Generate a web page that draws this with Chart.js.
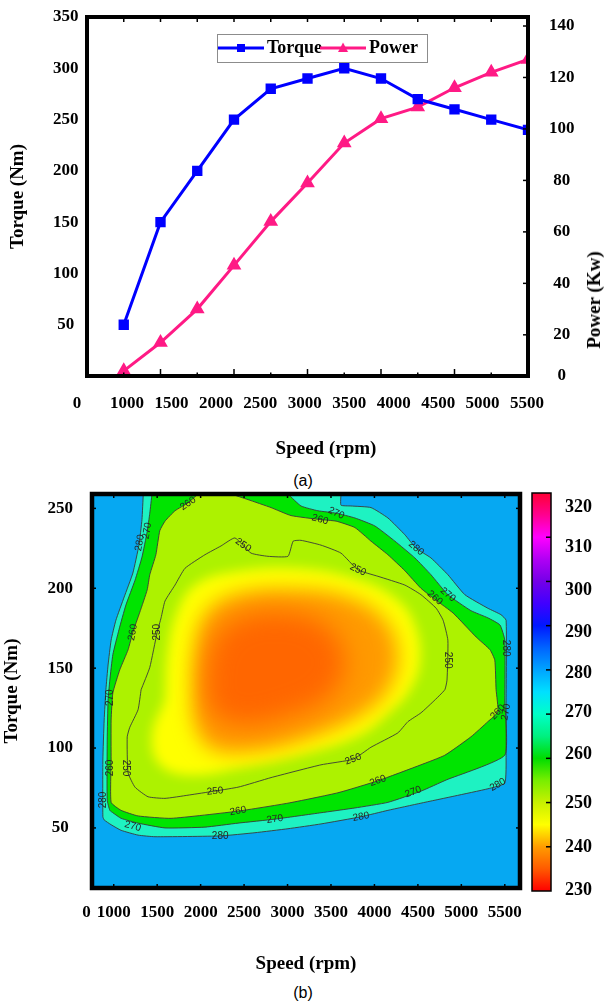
<!DOCTYPE html>
<html>
<head>
    <title>Torque, power and BSFC map</title>
    <style>
        body{ margin:0; background:#fff; }
        #page{ position:relative; width:606px; height:1004px; overflow:hidden; }
        #page canvas{ position:absolute; }
        .cap{ position:absolute; left:0; width:606px; text-align:center; font-family:"Liberation Sans", Arial, sans-serif; font-size:16px; line-height:22px; color:#000; }
        .atitle{ position:absolute; font-family:"Liberation Serif", "Times New Roman", serif; font-weight:bold; font-size:19px; color:#000; white-space:nowrap; transform:translate(-50%,-50%); }
    </style>
</head>
<body>
<div id="page">
    <canvas id="curves" width="606" height="470" style="left:0;top:0"></canvas>
    <div class="atitle" style="left:594px;top:300px;transform:translate(-50%,-50%) rotate(-90deg)">Power (Kw)</div>
    <div class="atitle" style="left:326px;top:448px">Speed (rpm)</div>
    <div class="cap" style="top:470px">(a)</div>
    <canvas id="bsfc" width="525" height="496" style="left:0;top:484px"></canvas>
    <canvas id="bar" width="86" height="420" style="left:520px;top:484px"></canvas>
    <div class="cap" style="top:982px">(b)</div>
</div>

<script src="https://cdn.jsdelivr.net/npm/chart.js@4.4.1/dist/chart.umd.min.js"></script>
<script>
    // ---- (a) torque / power curves ----
    const speedRpm = [1000, 1400, 1800, 2200, 2600, 3000, 3400, 3800, 4200, 4600, 5000, 5400];
    const torqueNm = [50, 150, 200, 250, 280, 290, 300, 290, 270, 260, 250, 240];
    const powerKw = [6, 17, 30, 47, 64, 79, 94.5, 104, 108.5, 116, 122, 127];

    // printed labels and where they sit
    const speedLabelText = ['0', '1000', '1500', '2000', '2500', '3000', '3500', '4000', '4500', '5000', '5500'];
    const speedLabelAt = [437, 1000, 1500, 2000, 2500, 3000, 3500, 4000, 4500, 5000, 5500];
    const powerLabelText = ['0', '20', '40', '60', '80', '100', '120', '140'];
    const powerLabelAt = [4, 20, 40, 60, 80, 100, 120, 140];

    // ---- (b) BSFC map (g/kWh), contour lines ----
    const c280Rpm = [1340, 1325, 1290, 1220, 1120, 1025, 970, 935, 910, 890, 875, 875, 890, 970, 1085, 1280, 1475, 2225, 2625, 3005, 3385, 3845, 4155, 4535, 4925, 5305, 5500, 5515, 5515, 5515, 5455, 5305, 5040, 4845, 4650, 4480, 4350, 4155, 3960, 3730, 3615, 3615];
    const c280Nm = [259, 243, 227, 209.5, 194.5, 180, 167.5, 152, 136.5, 117.5, 92.5, 57, 55, 52, 48.5, 45.5, 44.5, 45, 47, 49.5, 52.5, 57, 61, 65.5, 70, 74.5, 78, 95.5, 130, 180, 183.5, 187.5, 196, 208.5, 219, 225, 233.5, 244, 250.5, 251.5, 252, 259];

    const c270Rpm = [1440, 1415, 1385, 1325, 1245, 1140, 1060, 990, 955, 935, 925, 925, 955, 990, 1085, 1280, 1590, 2050, 2430, 2855, 3385, 3775, 4155, 4535, 4825, 5500, 5500, 5500, 5445, 5305, 5110, 4845, 4650, 4465, 4235, 4005, 3775, 3560, 3350, 3155, 3005];
    const c270Nm = [259, 247, 235.5, 219.5, 205, 189.5, 174, 158.5, 142.5, 130, 105, 67.5, 61, 59.5, 56, 53, 50, 50.5, 53, 55.5, 59.5, 62.5, 66, 73, 80, 95.5, 130, 167.5, 177, 181.5, 186, 196, 208.5, 219, 229.5, 239, 244, 247, 248.5, 251.5, 259];

    const c260Rpm = [1970, 1855, 1705, 1590, 1530, 1485, 1415, 1385, 1300, 1220, 1165, 1070, 990, 970, 970, 970, 1085, 1280, 1660, 2430, 3005, 3580, 4040, 4535, 4810, 5110, 5305, 5420, 5400, 5385, 5330, 5170, 4905, 4710, 4535, 4350, 4155, 3960, 3775, 3560, 3375, 3040, 2810, 2545, 2350];
    const c260Nm = [259, 253.5, 248.5, 242, 236, 221, 208.5, 199, 185, 172.5, 161.5, 149, 134.5, 117.5, 92.5, 66, 61, 57.5, 56, 60.5, 65.5, 72, 79.5, 89.5, 95.5, 107, 116.5, 122.5, 136.5, 155, 161.5, 169.5, 184.5, 192.5, 200, 211, 221, 229.5, 238, 242, 243, 245.5, 250.5, 255.5, 259];

    const c250Rpm = [1315, 1415, 1500, 1545, 1590, 1705, 1820, 2050, 2235, 2395, 2580, 2775, 3005, 3065, 3155, 3385, 3615, 3810, 4040, 4350, 4535, 4710, 4790, 4845, 4835, 4810, 4675, 4535, 4385, 4270, 3960, 3755, 3385, 2810, 2430, 1855, 1590, 1395, 1245, 1165, 1155, 1185, 1280, 1315];
    const c250Nm = [136.5, 150.5, 172.5, 181.5, 192, 202, 212.5, 221, 226.5, 231.5, 222, 220, 220, 229.5, 230, 227, 222, 211.5, 207.5, 202, 196, 187.5, 180, 167.5, 142.5, 136.5, 129, 122, 116.5, 109.5, 100.5, 93, 89.5, 81.5, 75.5, 70.5, 68.5, 69.5, 75.5, 84.5, 107, 113, 124, 136.5];

    // inner (unlabelled) levels estimated from the shading
    const c245Rpm = [1590, 1625, 1740, 1935, 2340, 3145, 3835, 4270, 4465, 4525, 4410, 4180, 3835, 3145, 2455, 1880, 1530, 1440, 1590];
    const c245Nm = [130, 161.5, 186.5, 202, 210, 212.5, 205, 192.5, 177, 155, 136.5, 122.5, 108, 95.5, 87.5, 83, 89.5, 108, 130];
    const c240Rpm = [1910, 1935, 2050, 2395, 3145, 3720, 4120, 4270, 4155, 3835, 3260, 2570, 2110, 1935, 1910];
    const c240Nm = [130, 161.5, 183.5, 196, 199, 194, 180, 158.5, 136.5, 120.5, 106.5, 97.5, 100, 114.5, 130];
    const c236Rpm = [2050, 2130, 2395, 2915, 3430, 3660, 3490, 3030, 2455, 2130, 2050];
    const c236Nm = [136.5, 164.5, 180, 185, 177, 155, 133, 120.5, 114.5, 122.5, 136.5];

    const labelText = ['280', '270', '260', '270', '260', '250', '250', '280', '270', '260', '250', '280', '250', '260', '270', '260', '280', '250', '270', '280', '250', '260', '270', '250', '260', '280', '270', '280', '260', '270'];
    const labelRpm = [1300, 1385, 1855, 3560, 3375, 2490, 3810, 4480, 4845, 4695, 4845, 5515, 1500, 1220, 955, 955, 875, 1140, 1220, 2225, 2165, 2430, 2855, 3755, 4040, 3845, 4445, 5420, 5420, 5515];
    const labelNm = [228.5, 236, 253, 247, 243, 227, 211.5, 225, 196, 194, 155, 162.5, 172.5, 172.5, 131.5, 87.5, 67.5, 87.5, 51, 45, 73, 60.5, 55.5, 93, 79.5, 57, 72.5, 77, 122.5, 122.5];
    const labelAngle = [-80, -80, -35, 25, 15, 35, 25, 40, 40, 40, 90, 90, -90, -80, -90, -90, -90, 90, 15, 0, -5, -10, -8, -20, -20, -10, -20, -30, -45, -80];

    const mapSpeedLabelText = ['0', '1000', '1500', '2000', '2500', '3000', '3500', '4000', '4500', '5000', '5500'];
    const mapSpeedLabelAt = [687, 1000, 1500, 2000, 2500, 3000, 3500, 4000, 4500, 5000, 5500];
    const mapTorqueTicks = [50, 100, 150, 200, 250];

    // colour bar
    const bsfcTicks = [230, 240, 250, 260, 270, 280, 290, 300, 310, 320];
    const bsfcLabelAt = [230.2, 239.8, 249.9, 260.8, 270.3, 279.3, 288.6, 298.1, 307.6, 316.8];
    const bsfcStops = [230, 235, 240, 245, 250, 255, 260, 265, 270, 275, 280, 285, 290, 295, 300, 305, 310, 315, 320];
    const bsfcColors = ['#ff0000', '#ff5a00', '#ff9c00', '#ffff00', '#c8f000', '#78ee00', '#00dc00', '#00f080', '#00ffc8', '#00e0ff', '#00a4ff', '#0064ff', '#0018ff', '#4000ff', '#7400e8', '#b000f4', '#ff00ff', '#ff0090', '#ff0034'];

    const serif = '"Liberation Serif", "Times New Roman", serif';
    const tickFont = {family: serif, size: 17, weight: 'bold'};
    const titleFont = {family: serif, size: 19, weight: 'bold'};
    Chart.defaults.color = '#000';

    // frame round the plot area with inward tick marks
    function makeFrame(width, marks) {
        return {
            id: 'frame',
            afterDatasetsDraw(chart) {
                const {ctx, chartArea: a} = chart;
                ctx.save();
                ctx.strokeStyle = '#000';
                ctx.lineWidth = 1.5;
                marks.forEach(m => {
                    const s = chart.scales[m.scale];
                    m.values.forEach((v, i) => {
                        const p = s.getPixelForValue(v);
                        const len = typeof m.len === 'function' ? m.len(i) : m.len;
                        ctx.beginPath();
                        if (m.side === 'bottom') { ctx.moveTo(p, a.bottom); ctx.lineTo(p, a.bottom - len); }
                        else if (m.side === 'top') { ctx.moveTo(p, a.top); ctx.lineTo(p, a.top + len); }
                        else if (m.side === 'left') { ctx.moveTo(a.left, p); ctx.lineTo(a.left + len, p); }
                        else { ctx.moveTo(a.right, p); ctx.lineTo(a.right - len, p); }
                        ctx.stroke();
                    });
                });
                ctx.lineWidth = width;
                ctx.strokeRect(a.left, a.top, a.width, a.height);
                ctx.restore();
            }
        };
    }

    // legend sample: line with marker
    function legendSymbol(color, shape) {
        const c = document.createElement('canvas');
        c.width = 46; c.height = 14;
        const g = c.getContext('2d');
        g.strokeStyle = color; g.fillStyle = color; g.lineWidth = 3;
        g.beginPath(); g.moveTo(0, 7); g.lineTo(46, 7); g.stroke();
        g.beginPath();
        if (shape === 'rect') g.rect(19, 3, 8, 8);
        else { g.moveTo(23, 1.5); g.lineTo(28, 11); g.lineTo(18, 11); g.closePath(); }
        g.fill();
        return c;
    }

    // put the legend inside the plot, boxed
    function placeLegend(x0, top) {
        return {
            id: 'placeLegend',
            afterLayout(chart) {
                const lg = chart.legend;
                const pad = lg.options.labels.padding;
                const w = lg.right - lg.left;
                lg.left = x0 - (pad + w - lg.lineWidths[0]) / 2;
                lg.right = lg.left + w;
                lg.top = top;
                lg.bottom = top + 30;
            },
            beforeDraw(chart) {
                const lg = chart.legend;
                const pad = lg.options.labels.padding;
                const ctx = chart.ctx;
                ctx.save();
                ctx.fillStyle = '#fff';
                ctx.strokeStyle = '#8c8c8c';
                ctx.lineWidth = 1;
                const bx = x0 - 7, by = top - 1, bw = lg.lineWidths[0] - pad + 16, bh = 28;
                ctx.fillRect(bx, by, bw, bh);
                ctx.strokeRect(bx + 0.5, by + 0.5, bw, bh);
                ctx.restore();
            }
        };
    }

    new Chart('curves', {
        type: 'line',
        data: {
            datasets: [{
                label: 'Torque',
                data: speedRpm.map((s, i) => ({x: s, y: torqueNm[i]})),
                yAxisID: 'y',
                borderColor: '#0000ff',
                backgroundColor: '#0000ff',
                borderWidth: 3,
                pointStyle: 'rect',
                pointRadius: 5.2,
                symbol: legendSymbol('#0000ff', 'rect')
            }, {
                label: 'Power',
                data: speedRpm.map((s, i) => ({x: s, y: powerKw[i]})),
                yAxisID: 'y1',
                borderColor: '#ff1a85',
                backgroundColor: '#ff1a85',
                borderWidth: 3,
                pointStyle: 'triangle',
                pointRadius: 5.5,
                symbol: legendSymbol('#ff1a85', 'triangle')
            }]
        },
        options: {
            responsive: false,
            animation: false,
            devicePixelRatio: 1,
            layout: {padding: 0},
            scales: {
                x: {type: 'linear', display: false, min: 600, max: 5400},
                xLab: {
                    type: 'linear', position: 'bottom', min: 550, max: 5511,
                    grid: {display: false, drawTicks: false}, border: {display: false},
                    afterBuildTicks: ax => { ax.ticks = speedLabelAt.map(v => ({value: v})); },
                    afterFit: ax => { ax.height = 94; ax.paddingLeft = 0; ax.paddingRight = 0; },
                    ticks: {autoSkip: false, maxRotation: 0, padding: 17, font: tickFont, color: '#000',
                        callback: (v, i) => speedLabelText[i]}
                },
                y: {
                    position: 'left', min: 0, max: 350,
                    grid: {display: false, drawTicks: false}, border: {display: false},
                    afterFit: ax => { ax.width = 87; ax.paddingTop = 0; ax.paddingBottom = 0; },
                    ticks: {stepSize: 50, crossAlign: 'center', padding: 8.5, font: tickFont, color: '#000',
                        callback: v => v === 0 ? '' : v},
                    title: {display: true, text: 'Torque (Nm)', font: titleFont, color: '#000', padding: {top: 7, bottom: 0}}
                },
                y1: {
                    position: 'right', min: 4, max: 143.5,
                    grid: {display: false, drawTicks: false}, border: {display: false},
                    afterBuildTicks: ax => { ax.ticks = powerLabelAt.map(v => ({value: v})); },
                    afterFit: ax => { ax.width = 78; ax.paddingTop = 0; ax.paddingBottom = 0; },
                    ticks: {autoSkip: false, crossAlign: 'center', padding: 21, font: tickFont, color: '#000',
                        callback: (v, i) => powerLabelText[i]}
                }
            },
            plugins: {
                tooltip: {enabled: false},
                legend: {
                    position: 'top',
                    maxHeight: 17,
                    labels: {
                        usePointStyle: true,
                        pointStyleWidth: 34,
                        padding: 4,
                        color: '#000',
                        font: {family: serif, size: 18, weight: 'bold'},
                        generateLabels: chart => chart.data.datasets.map((ds, i) => ({
                            text: ds.label, datasetIndex: i, pointStyle: ds.symbol,
                            fillStyle: ds.borderColor, strokeStyle: ds.borderColor, lineWidth: 0,
                            hidden: false, fontColor: '#000'
                        }))
                    }
                }
            }
        },
        plugins: [
            placeLegend(224, 35),
            makeFrame(4, [
                {scale: 'x', side: 'bottom', values: speedRpm, len: i => i % 2 ? 7 : 3.5},
                {scale: 'x', side: 'top', values: speedRpm, len: 5},
                {scale: 'y1', side: 'right', values: powerLabelAt.slice(1), len: 5}
            ])
        ]
    });

    // ---- (b) BSFC map ----
    function contour(rpm, nm, extra) {
        return Object.assign({
            data: rpm.map((s, i) => ({x: s, y: nm[i]})),
            showLine: true,
            pointRadius: 0,
            borderWidth: 0.9,
            borderColor: '#3a3a3a',
            tension: 0.15
        }, extra);
    }

    // filled bands drawn from the contour lines, under the lines themselves
    function shadeMap(background) {
        return {
            id: 'shadeMap',
            beforeDatasetsDraw(chart) {
                const {ctx, chartArea: a} = chart;
                ctx.save();
                ctx.beginPath();
                ctx.rect(a.left, a.top, a.width, a.height);
                ctx.clip();
                ctx.fillStyle = background;
                ctx.fillRect(a.left, a.top, a.width, a.height);
                chart.data.datasets.forEach((ds, i) => {
                    const line = chart.getDatasetMeta(i).dataset;
                    if (!ds.shade || !line) return;
                    if (line.updateControlPoints) line.updateControlPoints(a, 'x');
                    ctx.save();
                    ctx.filter = ds.blur ? 'blur(' + ds.blur + 'px)' : 'none';
                    ctx.fillStyle = ds.shade;
                    ctx.beginPath();
                    line.path(ctx);
                    ctx.closePath();
                    ctx.fill();
                    ctx.restore();
                });
                ctx.restore();
            }
        };
    }

    const contourText = {
        id: 'contourText',
        afterDatasetsDraw(chart) {
            const {ctx} = chart;
            const sx = chart.scales.x, sy = chart.scales.y;
            ctx.save();
            ctx.font = '10px "Liberation Sans", Arial, sans-serif';
            ctx.fillStyle = '#262626';
            ctx.textAlign = 'center';
            ctx.textBaseline = 'middle';
            labelText.forEach((t, i) => {
                ctx.save();
                ctx.translate(sx.getPixelForValue(labelRpm[i]), sy.getPixelForValue(labelNm[i]));
                ctx.rotate(labelAngle[i] * Math.PI / 180);
                ctx.fillText(t, 0, 0);
                ctx.restore();
            });
            ctx.restore();
        }
    };

    const noLine = 'rgba(0,0,0,0)';
    new Chart('bsfc', {
        type: 'scatter',
        data: {
            datasets: [
                contour(c280Rpm, c280Nm, {shade: '#1ef2c2'}),
                contour(c270Rpm, c270Nm, {shade: '#00e400'}),
                contour(c260Rpm, c260Nm, {shade: '#adf200'}),
                contour(c250Rpm, c250Nm, {shade: '#adf200'}),
                contour(c245Rpm, c245Nm, {shade: '#ffff00', blur: 6, borderColor: noLine, tension: 0.4}),
                contour(c240Rpm, c240Nm, {shade: '#ff9a00', blur: 10, borderColor: noLine, tension: 0.4}),
                contour(c236Rpm, c236Nm, {shade: '#ff6600', blur: 13, borderColor: noLine, tension: 0.4})
            ]
        },
        options: {
            responsive: false,
            animation: false,
            devicePixelRatio: 1,
            layout: {padding: {top: 10, right: 5, left: 0, bottom: 0}},
            plugins: {legend: {display: false}, tooltip: {enabled: false}},
            scales: {
                x: {
                    type: 'linear', min: 750, max: 5675,
                    grid: {display: false, drawTicks: false}, border: {display: false},
                    afterBuildTicks: ax => { ax.ticks = mapSpeedLabelAt.map(v => ({value: v})); },
                    afterFit: ax => { ax.height = 92; ax.paddingLeft = 0; ax.paddingRight = 0; },
                    ticks: {autoSkip: false, maxRotation: 0, padding: 14, font: tickFont, color: '#000',
                        callback: (v, i) => mapSpeedLabelText[i]},
                    title: {display: true, text: 'Speed (rpm)', font: titleFont, color: '#000', padding: {top: 0, bottom: 5}}
                },
                y: {
                    type: 'linear', min: 12.4, max: 259,
                    grid: {display: false, drawTicks: false}, border: {display: false},
                    afterBuildTicks: ax => { ax.ticks = mapTorqueTicks.map(v => ({value: v})); },
                    afterFit: ax => { ax.width = 92; ax.paddingTop = 0; ax.paddingBottom = 0; },
                    ticks: {autoSkip: false, crossAlign: 'center', padding: 19, font: tickFont, color: '#000'},
                    title: {display: true, text: 'Torque (Nm)', font: titleFont, color: '#000', padding: {top: 1, bottom: 0}}
                }
            }
        },
        plugins: [
            shadeMap('#06a8f2'),
            contourText,
            makeFrame(4.5, [
                {scale: 'x', side: 'bottom', values: mapSpeedLabelAt.slice(1), len: 4},
                {scale: 'x', side: 'top', values: mapSpeedLabelAt.slice(1), len: 4},
                {scale: 'y', side: 'left', values: mapTorqueTicks, len: 4},
                {scale: 'y', side: 'right', values: mapTorqueTicks, len: 4}
            ])
        ]
    });

    // colour scale
    new Chart('bar', {
        type: 'bar',
        data: {
            labels: ['BSFC'],
            datasets: [{
                data: [[bsfcStops[0], bsfcStops[bsfcStops.length - 1]]],
                backgroundColor: c => {
                    const ch = c.chart;
                    if (!ch.chartArea) return null;
                    const s = ch.scales.y;
                    const lo = bsfcStops[0], hi = bsfcStops[bsfcStops.length - 1];
                    const g = ch.ctx.createLinearGradient(0, s.getPixelForValue(lo), 0, s.getPixelForValue(hi));
                    bsfcStops.forEach((v, i) => g.addColorStop((v - lo) / (hi - lo), bsfcColors[i]));
                    return g;
                },
                borderWidth: 0,
                barPercentage: 1,
                categoryPercentage: 1
            }]
        },
        options: {
            responsive: false,
            animation: false,
            devicePixelRatio: 1,
            layout: {padding: {left: 12, top: 9, bottom: 13, right: 0}},
            plugins: {legend: {display: false}, tooltip: {enabled: false}},
            scales: {
                x: {display: false},
                y: {
                    position: 'right', min: 230, max: 320,
                    grid: {display: false, drawTicks: false}, border: {display: false},
                    afterBuildTicks: ax => { ax.ticks = bsfcLabelAt.map(v => ({value: v})); },
                    afterFit: ax => { ax.width = 55; ax.paddingTop = 0; ax.paddingBottom = 0; },
                    ticks: {autoSkip: false, padding: 14, font: {family: serif, size: 18, weight: 'bold'}, color: '#000',
                        callback: (v, i) => String(bsfcTicks[i])}
                }
            }
        },
        plugins: [makeFrame(1.5, [{scale: 'y', side: 'right', values: bsfcTicks.slice(1, -1), len: 5}])]
    });
</script>
</body>
</html>
